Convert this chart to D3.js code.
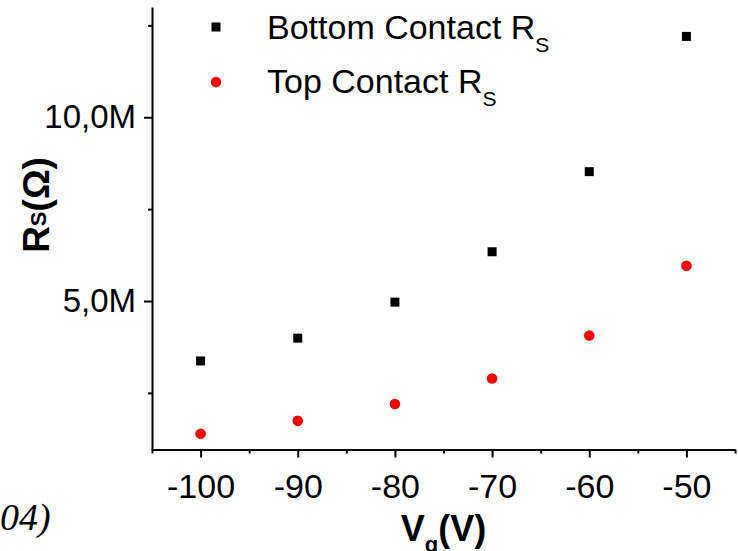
<!DOCTYPE html>
<html>
<head>
<meta charset="utf-8">
<script src="https://cdn.jsdelivr.net/npm/d3@7"></script>
<style>
  body { margin: 0; background: #fff; }
  svg { display: block; }
  text { font-family: "Liberation Sans", Arial, sans-serif; fill: #000; }
</style>
</head>
<body>
<div id="chart"></div>
<script>
// gate voltage (V)
var vg = [-100, -90, -80, -70, -60, -50];
// sheet resistance, ohms
var bottomRs = [3.37e6, 3.99e6, 4.97e6, 6.34e6, 8.52e6, 12.20e6];
var topRs = [1.39e6, 1.74e6, 2.20e6, 2.89e6, 4.06e6, 5.96e6];

var xTicks = [-100, -90, -80, -70, -60, -50];
var xMinor = [-105, -95, -85, -75, -65, -55, -45];
var yTicks = [5e6, 10e6];
var yTickLabels = ['5,0M', '10,0M'];
var yMinor = [2.5e6, 7.5e6, 12.5e6];

var width = 738, height = 551;

var svg = d3.select('#chart')
    .append('svg')
    .attr('width', width)
    .attr('height', height);

var x = d3.scaleLinear().domain([-105, -45]).range([152, 735]);
var y = d3.scaleLinear().domain([0.96e6, 13e6]).range([449.5, 7]);

// x axis
var xAxis = svg.append('g')
    .attr('transform', `translate(0, ${y.range()[0]})`)
    .call(d3.axisBottom(x).tickValues(xTicks).tickSize(8).tickSizeOuter(0).tickPadding(16)
        .tickFormat((d) => String(d)));
svg.append('g')
    .attr('transform', `translate(0, ${y.range()[0]})`)
    .call(d3.axisBottom(x).tickValues(xMinor).tickSize(4).tickSizeOuter(0).tickFormat(''))
    .select('.domain').remove();

// y axis
var yAxis = svg.append('g')
    .attr('transform', `translate(${x.range()[0]}, 0)`)
    .call(d3.axisLeft(y).tickValues(yTicks).tickSize(8).tickSizeOuter(0).tickPadding(8)
        .tickFormat((d, i) => yTickLabels[i]));
svg.append('g')
    .attr('transform', `translate(${x.range()[0]}, 0)`)
    .call(d3.axisLeft(y).tickValues(yMinor).tickSize(4).tickSizeOuter(0).tickFormat(''))
    .select('.domain').remove();

svg.selectAll('.domain, .tick line')
    .attr('stroke', '#000')
    .attr('stroke-width', 2);

xAxis.selectAll('.tick text')
    .style('font-family', '"Liberation Sans", Arial, sans-serif')
    .style('font-size', '34px');
yAxis.selectAll('.tick text')
    .style('font-family', '"Liberation Sans", Arial, sans-serif')
    .style('font-size', '33px');

// points
svg.append('g')
    .selectAll('rect')
    .data(vg)
    .join('rect')
    .attr('x', (d) => x(d) - 4.5)
    .attr('y', (d, i) => y(bottomRs[i]) - 4.5)
    .attr('width', 9)
    .attr('height', 9)
    .attr('fill', '#000');

svg.append('g')
    .selectAll('circle')
    .data(vg)
    .join('circle')
    .attr('cx', (d) => x(d))
    .attr('cy', (d, i) => y(topRs[i]))
    .attr('r', 5.3)
    .attr('fill', '#ff0000');

// legend
var legend = svg.append('g');
legend.append('rect')
    .attr('x', 211.5).attr('y', 22.5)
    .attr('width', 9).attr('height', 9)
    .attr('fill', '#000');
legend.append('circle')
    .attr('cx', 216).attr('cy', 82)
    .attr('r', 5.2)
    .attr('fill', '#ff0000');

var l1 = legend.append('text')
    .attr('x', 267).attr('y', 39)
    .style('font-size', '34px');
l1.append('tspan').text('Bottom Contact R');
l1.append('tspan').attr('dy', 13).style('font-size', '21px').text('S');

var l2 = legend.append('text')
    .attr('x', 267).attr('y', 93)
    .style('font-size', '34px');
l2.append('tspan').text('Top Contact R');
l2.append('tspan').attr('dy', 13).style('font-size', '21px').text('S');

// axis titles
var yTitle = svg.append('g')
    .attr('transform', `translate(49, 205)rotate(-90)`)
    .append('text')
    .attr('text-anchor', 'middle')
    .style('font-size', '37px')
    .style('font-weight', 'bold');
yTitle.append('tspan').text('R');
yTitle.append('tspan').attr('dy', -3).style('font-size', '22px').text('S');
yTitle.append('tspan').attr('dy', 3).text('(Ω)');

var xTitle = svg.append('text')
    .attr('x', 443.5).attr('y', 541)
    .attr('text-anchor', 'middle')
    .style('font-size', '36px')
    .style('font-weight', 'bold');
xTitle.append('tspan').text('V');
xTitle.append('tspan').attr('dy', 11).style('font-size', '22px').text('g');
xTitle.append('tspan').attr('dy', -11).text('(V)');

// stray fragment at the left edge
svg.append('text')
    .attr('x', 0).attr('y', 530)
    .style('font-family', '"Liberation Serif", "Times New Roman", serif')
    .style('font-style', 'italic')
    .style('font-size', '38px')
    .text('04)');
</script>
</body>
</html>
